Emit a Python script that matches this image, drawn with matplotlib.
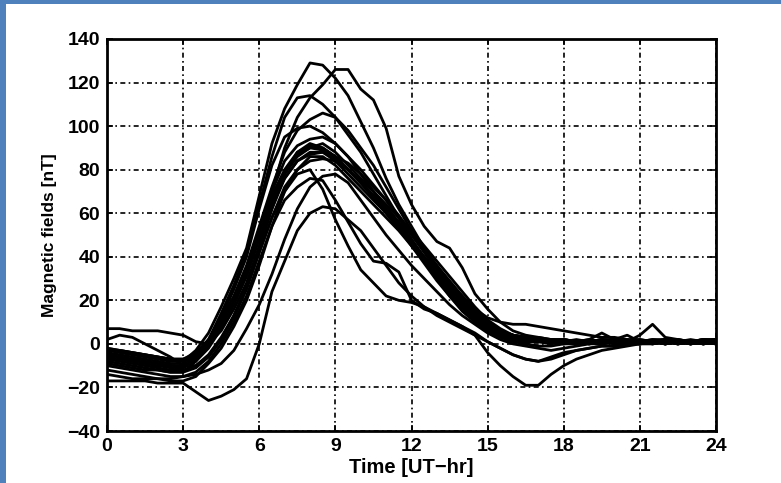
import matplotlib
matplotlib.use("Agg")
import matplotlib.pyplot as plt
from matplotlib.patches import Rectangle

plt.rcParams['font.family'] = ['Liberation Sans', 'DejaVu Sans']

# time grid [UT-hr]
t = [0, 0.5, 1, 1.5, 2, 2.5, 3, 3.5, 4, 4.5,
     5, 5.5, 6, 6.5, 7, 7.5, 8, 8.5, 9, 9.5,
     10, 10.5, 11, 11.5, 12, 12.5, 13, 13.5, 14, 14.5,
     15, 15.5, 16, 16.5, 17, 17.5, 18, 18.5, 19, 19.5,
     20, 20.5, 21, 21.5, 22, 22.5, 23, 23.5, 24]

# magnetic field curves [nT]
c01 = [-2, -3, -4, -5, -6, -7, -8, -3, 5, 17, 30, 44, 68, 92, 108, 119, 129, 128, 122, 114,
       102, 90, 76, 64, 54, 44, 36, 28, 20, 14, 9, 6, 4, 3, 2, 2, 1, 2, 1, 2, 1, 1, 2, 1, 1, 2, 1, 1, 2]
c02 = [-5, -6, -7, -8, -9, -10, -10, -7, -1, 8, 19, 32, 50, 70, 90, 104, 113, 119, 126, 126,
       117, 112, 99, 77, 64, 54, 47, 44, 35, 23, 16, 10, 6, 4, 3, 2, 2, 1, 1, 2, 1, 0, 1, 2, 1, 0, 1, 2, 1]
c03 = [-6, -7, -8, -9, -10, -10, -11, -6, 2, 14, 27, 42, 64, 86, 104, 113, 114, 110, 104, 96,
       88, 78, 68, 58, 48, 39, 30, 22, 15, 10, 6, 4, 2, 1, 1, 0, 1, 0, 1, 1, 0, 1, 0, 1, 0, 1, 0, 1, 0]
c04 = [-3, -3, -4, -5, -6, -7, -7, -4, 2, 11, 22, 36, 54, 72, 88, 98, 103, 106, 104, 98,
       90, 82, 72, 62, 52, 43, 35, 28, 21, 15, 10, 6, 4, 3, 2, 2, 1, 1, 2, 1, 1, 2, 1, 1, 2, 1, 1, 2, 1]
c05 = [-8, -9, -10, -11, -12, -13, -13, -8, 0, 12, 25, 40, 62, 82, 95, 99, 100, 97, 92, 86,
       80, 73, 66, 58, 50, 42, 34, 27, 20, 14, 9, 6, 4, 2, 2, 1, 1, 0, 1, 1, 0, 1, 0, 1, 1, 0, 1, 0, 1]
c06 = [-4, -5, -6, -7, -8, -9, -9, -6, 0, 9, 20, 33, 50, 66, 79, 87, 90, 92, 88, 82,
       76, 70, 63, 56, 48, 40, 33, 26, 19, 13, 8, 5, 3, 2, 2, 1, 1, 1, 0, 1, 1, 0, 1, 1, 0, 1, 1, 0, 1]
c07 = [-6, -7, -8, -9, -10, -11, -11, -8, -2, 7, 18, 31, 48, 64, 78, 86, 90, 89, 85, 80,
       74, 68, 61, 54, 46, 38, 31, 24, 17, 12, 7, 4, 3, 2, 1, 1, 0, 1, 1, 0, 1, 1, 0, 1, 0, 1, 1, 0, 1]
c08 = [-2, -3, -4, -5, -6, -7, -7, -5, 1, 10, 21, 34, 51, 65, 76, 84, 87, 88, 86, 83,
       78, 72, 66, 59, 51, 43, 36, 29, 22, 15, 10, 6, 4, 3, 3, 2, 2, 1, 2, 5, 2, 4, 1, 2, 2, 1, 2, 1, 2]
c09 = [-5, -6, -7, -8, -9, -10, -10, -7, -1, 8, 19, 33, 52, 70, 84, 91, 94, 95, 92, 86,
       78, 70, 62, 54, 46, 38, 30, 23, 16, 11, 7, 4, 2, 1, 1, 1, 0, 1, 0, 1, 1, 0, 1, 0, 1, 1, 0, 1, 0]
c10 = [7, 7, 6, 6, 6, 5, 4, 1, 0, 6, 16, 28, 45, 62, 76, 84, 88, 88, 84, 78,
       72, 66, 60, 53, 46, 40, 34, 28, 22, 16, 12, 10, 9, 9, 8, 7, 6, 5, 4, 3, 3, 2, 2, 1, 2, 2, 1, 2, 2]
c11 = [2, 4, 3, 0, -3, -6, -10, -10, -6, 2, 13, 26, 44, 62, 78, 88, 92, 90, 86, 80,
       74, 67, 60, 53, 45, 37, 29, 22, 16, 11, 7, 4, 3, 2, 1, 1, 2, 1, 0, 1, 1, 0, 1, 1, 2, 1, 0, 1, 1]
c12 = [-10, -11, -12, -13, -14, -15, -15, -13, -8, 0, 10, 22, 38, 54, 66, 72, 76, 75, 66, 56,
       46, 38, 37, 33, 20, 16, 14, 11, 8, 5, 1, -2, -5, -7, -8, -6, -4, -3, -2, -1, -1, 0, 0, 1, 0, 1, 0, 1, 0]
c13 = [-7, -8, -9, -10, -11, -12, -12, -10, -5, 3, 13, 26, 42, 58, 70, 78, 80, 71, 57, 45,
       34, 28, 22, 20, 19, 17, 14, 11, 8, 4, -4, -10, -15, -19, -19, -14, -10, -7, -5, -3, -2, -1, 0, 0, 1, 0, 1, 0, 1]
c14 = [-17, -17, -17, -17, -18, -18, -18, -22, -26, -24, -21, -16, 0, 24, 38, 52, 60, 63, 62, 57,
       52, 44, 36, 28, 22, 17, 13, 10, 7, 4, 1, -2, -5, -7, -8, -7, -5, -3, -2, -1, -1, 0, 0, 1, 0, 1, 0, 1, 0]
c15 = [-12, -13, -14, -15, -16, -16, -15, -14, -12, -9, -3, 7, 18, 32, 48, 62, 72, 77, 78, 74,
       66, 58, 50, 43, 36, 30, 24, 18, 13, 9, 5, 2, 0, -1, -2, -3, -2, -1, 0, 0, 1, 0, 1, 0, 1, 0, 1, 0, 1]
c16 = [-14, -15, -16, -16, -16, -17, -17, -15, -9, -2, 8, 20, 36, 54, 70, 80, 86, 86, 82, 76,
       70, 64, 58, 52, 45, 38, 31, 24, 17, 11, 6, 3, 1, 0, -1, -1, 0, 0, 1, 0, 1, 0, 1, 1, 0, 1, 0, 1, 0]
c17 = [-3, -4, -5, -6, -7, -8, -8, -5, 1, 10, 21, 35, 52, 68, 80, 88, 91, 90, 86, 80,
       74, 68, 62, 55, 47, 39, 32, 25, 18, 12, 8, 5, 3, 2, 2, 1, 2, 1, 1, 2, 2, 1, 4, 9, 3, 2, 1, 2, 2]
c18 = [-9, -10, -11, -12, -12, -13, -13, -11, -6, 2, 12, 25, 42, 58, 72, 80, 84, 85, 84, 80,
       75, 70, 64, 58, 52, 45, 38, 31, 24, 17, 11, 7, 4, 3, 2, 2, 1, 1, 1, 0, 1, 1, 0, 1, 1, 0, 1, 1, 0]

curves = [c01, c02, c03, c04, c05, c06, c07, c08, c09, c10,
          c11, c12, c13, c14, c15, c16, c17, c18]

xticks = [0, 3, 6, 9, 12, 15, 18, 21, 24]
yticks = [-40, -20, 0, 20, 40, 60, 80, 100, 120, 140]

W, H = 781, 483
fig = plt.figure(figsize=(W / 100, H / 100), dpi=100)
fig.patch.set_facecolor('white')

# blue frame bands (top and left)
fig.patches.append(Rectangle((0, 1 - 4 / H), 1, 4 / H, transform=fig.transFigure,
                             facecolor='#4f81bd', edgecolor='none', zorder=0))
fig.patches.append(Rectangle((0, 0), 6 / W, 1, transform=fig.transFigure,
                             facecolor='#4f81bd', edgecolor='none', zorder=0))

ax = fig.add_axes([107 / W, 52 / H, 609 / W, 392 / H])

for c in curves:
    ax.plot(t, c, color='black', lw=2.0, solid_joinstyle='round', zorder=3)

ax.set_xlim(0, 24)
ax.set_ylim(-40, 140)
ax.set_xticks(xticks)
ax.set_yticks(yticks)
ax.grid(True, color='black', linestyle=(0, (3, 2, 1, 2)), linewidth=1.2, zorder=1)

for s in ax.spines.values():
    s.set_linewidth(2.0)
    s.set_color('black')

ax.tick_params(direction='in', length=4, width=1.2, top=True, right=True,
               labelsize=14, pad=5)
for lab in ax.get_xticklabels() + ax.get_yticklabels():
    lab.set_fontweight('bold')

ax.set_xlabel('Time [UT\u2212hr]', fontsize=14.5, fontweight='bold', labelpad=2)
ax.set_ylabel('Magnetic fields [nT]', fontsize=12.5, fontweight='bold', labelpad=7)

fig.savefig('out.png', dpi=100, facecolor='white')
